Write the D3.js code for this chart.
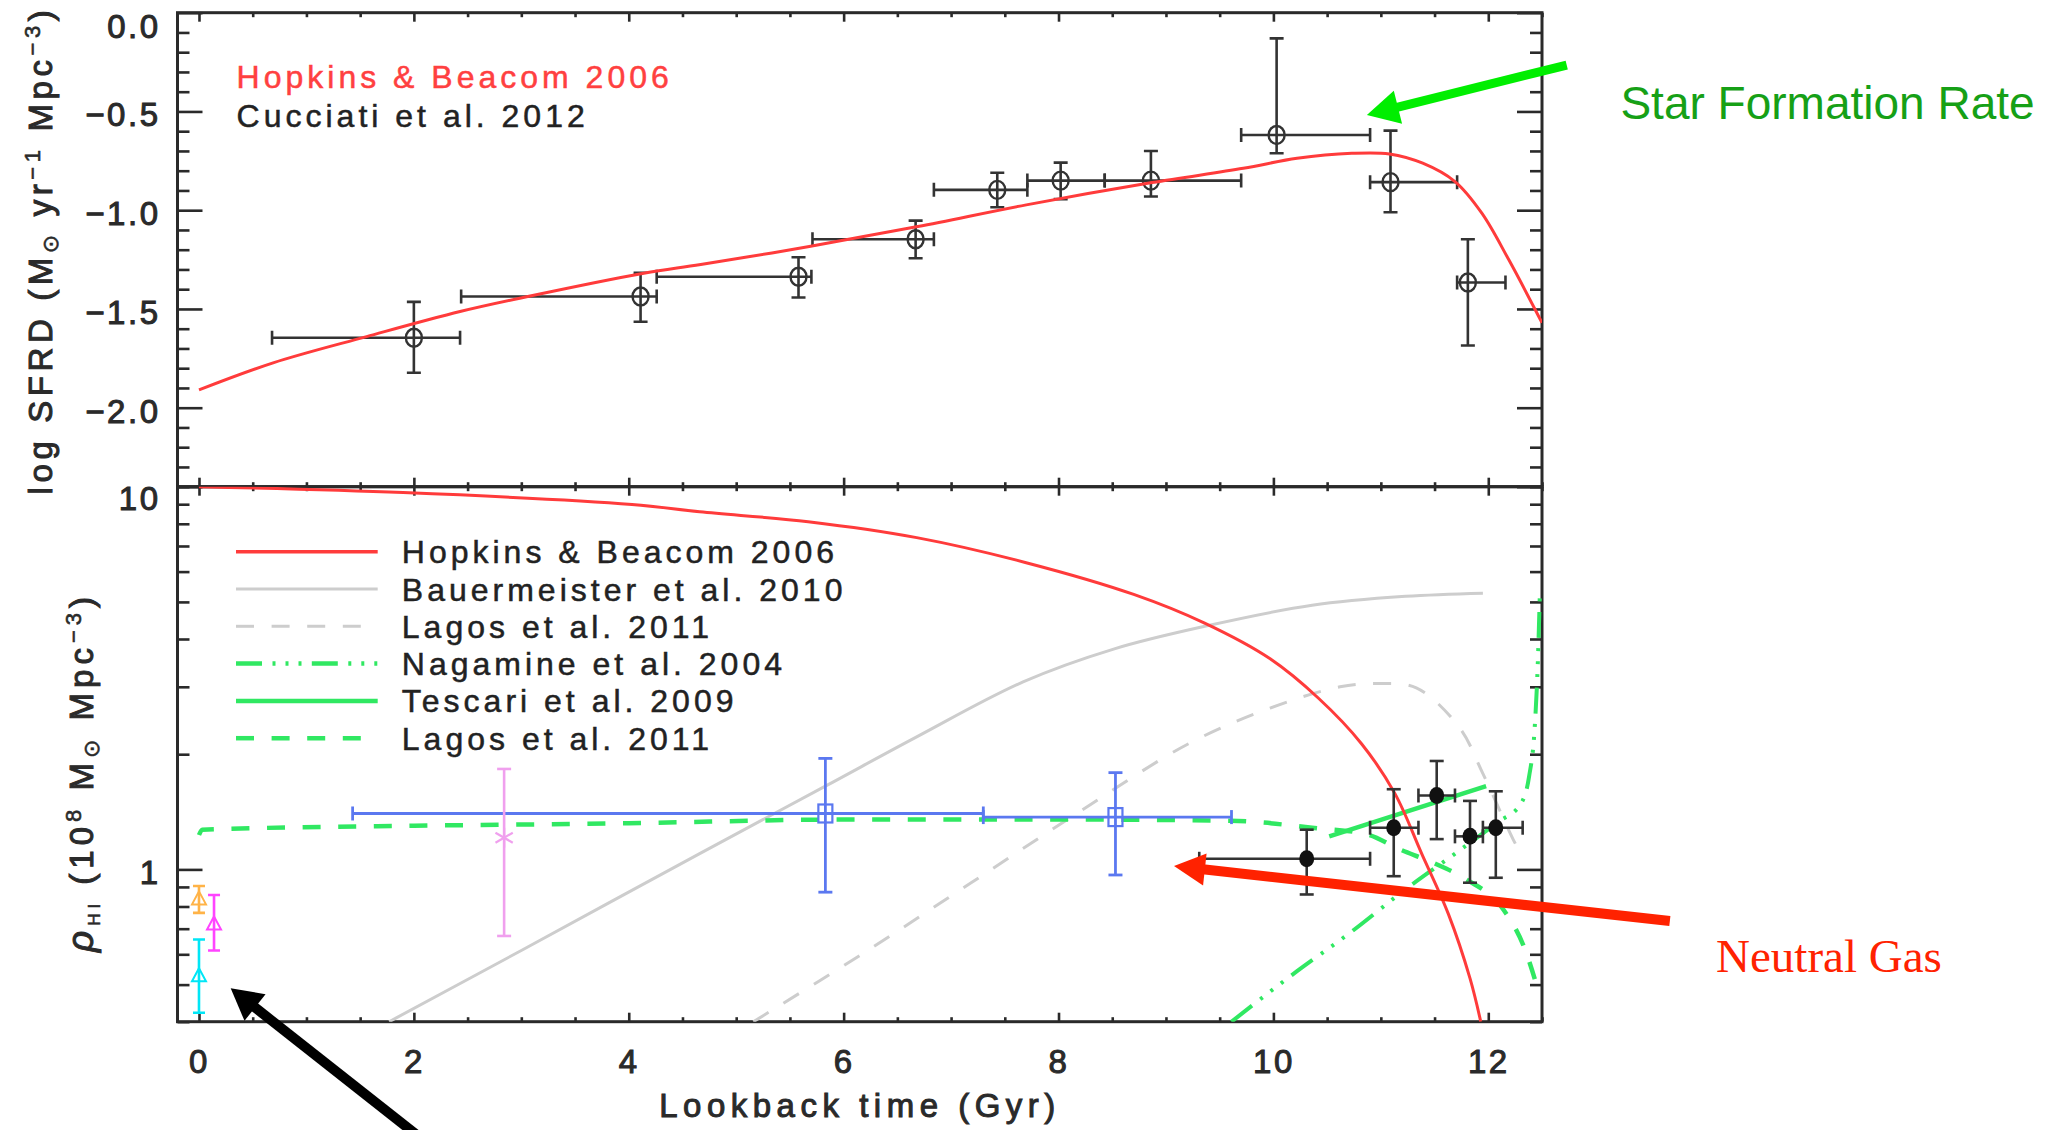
<!DOCTYPE html>
<html>
<head>
<meta charset="utf-8">
<script src="https://cdn.jsdelivr.net/npm/d3@7"></script>
<style>
  html, body { margin: 0; padding: 0; background: #fff; }
  svg { display: block; }
  .hershey { font-family: "Liberation Sans", "DejaVu Sans", sans-serif; }
</style>
</head>
<body>
<svg id="chart" width="2057" height="1130"></svg>
<script>
// ---------------- data ----------------
// Upper panel: cosmic star-formation-rate density, log10(Msun / yr / Mpc^3)
const sfrdModelTime = [0.0, 0.69, 1.56, 2.43, 3.06, 4.14, 4.67, 5.68, 6.69, 7.70, 8.87, 9.72, 10.22, 10.73, 11.08, 11.39, 11.69, 11.94, 12.19, 12.5];
const sfrdModelLog  = [-1.91, -1.773, -1.64, -1.513, -1.437, -1.319, -1.275, -1.184, -1.083, -0.973, -0.86, -0.788, -0.737, -0.712, -0.715, -0.762, -0.855, -1.015, -1.25, -1.57];

const cucciatiTime   = [2.0, 4.11, 5.58, 6.67, 7.43, 8.02, 8.86, 10.03, 11.09, 11.81];
const cucciatiTimeLo = [0.68, 2.44, 4.26, 5.71, 6.84, 7.71, 8.43, 9.70, 10.90, 11.71];
const cucciatiTimeHi = [2.43, 4.26, 5.70, 6.84, 7.71, 8.43, 9.70, 10.90, 11.71, 12.16];
const cucciatiLog    = [-1.646, -1.437, -1.337, -1.147, -0.897, -0.85, -0.85, -0.619, -0.858, -1.366];
const cucciatiLogHi  = [-1.464, -1.317, -1.238, -1.053, -0.81, -0.759, -0.70, -0.13, -0.597, -1.147];
const cucciatiLogLo  = [-1.823, -1.565, -1.442, -1.243, -0.985, -0.944, -0.931, -0.712, -1.01, -1.685];

// Lower panel: neutral-gas density, 10^8 Msun / Mpc^3
const hopkinsHiTime  = [0.0, 1.9, 4.03, 4.66, 5.67, 6.68, 7.69, 8.70, 9.36, 9.97, 10.42, 10.82, 11.13, 11.38, 11.63, 11.83, 11.93];
const hopkinsHiValue = [10.0, 9.65, 8.99, 8.6, 8.10, 7.36, 6.34, 5.23, 4.4, 3.55, 2.80, 2.13, 1.58, 1.10, 0.763, 0.519, 0.40];

const bauerTime  = [1.77, 3.0, 4.66, 5.83, 6.68, 7.67, 8.52, 9.35, 10.36, 11.23, 11.95];
const bauerValue = [0.40, 0.614, 1.10, 1.65, 2.22, 3.09, 3.77, 4.31, 4.90, 5.17, 5.27];

const lagosGreyTime  = [5.16, 6.18, 7.19, 8.20, 9.21, 9.97, 10.62, 10.97, 11.33, 11.73, 11.95, 12.23, 12.32];
const lagosGreyValue = [0.40, 0.603, 0.924, 1.418, 2.13, 2.64, 3.00, 3.06, 2.98, 2.35, 1.78, 1.2, 1.08];

const nagamineTime  = [9.61, 10.22, 10.72, 11.23, 11.73, 12.09, 12.3, 12.38, 12.43, 12.46, 12.48];
const nagamineValue = [0.40, 0.542, 0.685, 0.887, 1.12, 1.33, 1.48, 1.75, 2.3, 3.4, 5.25];

const tescariTime  = [10.52, 11.98];
const tescariValue = [1.22, 1.65];

const lagosGreenTime  = [0.0, 0.03, 2.0, 4.0, 6.0, 8.0, 9.6, 10.36, 10.87, 11.17, 11.49, 11.80, 12.14, 12.33, 12.48];
const lagosGreenValue = [1.23, 1.27, 1.30, 1.32, 1.35, 1.35, 1.34, 1.285, 1.235, 1.13, 1.04, 0.94, 0.786, 0.63, 0.467];

// high-redshift absorber measurements (filled circles)
const absorberTime    = [10.31, 11.12, 11.52, 11.83, 12.07];
const absorberTimeLo  = [9.31, 10.90, 11.35, 11.69, 11.95];
const absorberTimeHi  = [10.90, 11.35, 11.69, 11.95, 12.32];
const absorberValue   = [1.066, 1.285, 1.56, 1.22, 1.285];
const absorberValueHi = [1.27, 1.62, 1.92, 1.51, 1.60];
const absorberValueLo = [0.86, 0.96, 1.20, 0.923, 0.951];

// intermediate-redshift measurements (open squares)
const squareTime    = [5.83, 8.53];
const squareTimeLo  = [1.43, 7.30];
const squareTimeHi  = [7.30, 9.61];
const squareValue   = [1.40, 1.37];
const squareValueHi = [1.95, 1.79];
const squareValueLo = [0.872, 0.967];

// stacked 21-cm measurement (asterisk)
const stackTime = [2.84];
const stackValue = [1.21];
const stackValueHi = [1.83];
const stackValueLo = [0.67];

// local 21-cm surveys (open triangles)
const localTime    = [0.0, 0.14, 0.0];
const localValue   = [0.835, 0.718, 0.526];
const localValueHi = [0.905, 0.857, 0.656];
const localValueLo = [0.77, 0.614, 0.422];
const localColor   = ["#ffb347", "#ff44ff", "#00e6f6"];

// axis ticks
const timeMajorTicks = [0, 2, 4, 6, 8, 10, 12];
const sfrdMajorTicks = [0, -0.5, -1.0, -1.5, -2.0];
const hiMajorTicks = [1, 10];
const hiMinorTicks = [0.4, 0.5, 0.6, 0.7, 0.8, 0.9, 2, 3, 4, 5, 6, 7, 8, 9];

// legend labels
const sfrdLegend = ["Hopkins & Beacom 2006", "Cucciati et al. 2012"];
const hiLegend = ["Hopkins & Beacom 2006", "Bauermeister et al. 2010", "Lagos et al. 2011",
                  "Nagamine et al. 2004", "Tescari et al. 2009", "Lagos et al. 2011"];

// ---------------- layout ----------------
const svg = d3.select("#chart");
const plotLeft = 177.5, plotRight = 1542;
const sfrTop = 12.7, sfrBottom = 486.7;
const hiTop = 486.7, hiBottom = 1021.7;

const x = d3.scaleLinear().domain([-0.2, 12.5]).range([plotLeft, plotRight]);
const ySfr = d3.scaleLinear().domain([-2.4, 0]).range([sfrBottom, sfrTop]);
const yHi = d3.scaleLog().domain([0.4, 10]).range([hiBottom, hiTop]);

const ink = "#2a2a2a";
const red = "#ff3b3b";
const grey = "#cdcdcd";
const green = "#30e862";
const blue = "#5b78f0";

const defs = svg.append("defs");
defs.append("clipPath").attr("id", "clipSfr").append("rect")
  .attr("x", plotLeft).attr("y", sfrTop).attr("width", plotRight - plotLeft).attr("height", sfrBottom - sfrTop);
defs.append("clipPath").attr("id", "clipHi").append("rect")
  .attr("x", plotLeft).attr("y", hiTop).attr("width", plotRight - plotLeft).attr("height", hiBottom - hiTop);

const timeMinorTicks = d3.range(0, 12.51, 0.5).filter(t => !timeMajorTicks.includes(t));
const sfrdMinorTicks = d3.range(-24, 1, 1).map(v => v / 10).filter(v => Math.abs(v * 2 - Math.round(v * 2)) > 1e-6);

// ---------------- axes ----------------
function styleAxis(g) {
  g.select(".domain").remove();
  g.selectAll(".tick line").attr("stroke", ink).attr("stroke-width", 2.6);
  g.selectAll(".tick text")
    .attr("class", "hershey")
    .attr("fill", ink).attr("stroke", ink).attr("stroke-width", 1)
    .style("font-size", "33px").style("letter-spacing", "2.5px");
}

function timeAxes(yPos, generator, withLabels) {
  const major = generator(x).tickValues(timeMajorTicks).tickSize(-9).tickSizeOuter(0);
  if (withLabels) major.tickPadding(28).tickFormat(d3.format("d")); else major.tickFormat("");
  svg.append("g").attr("transform", `translate(0,${yPos})`).call(major).call(styleAxis);
  const minor = generator(x).tickValues(timeMinorTicks).tickSize(-4.5).tickSizeOuter(0).tickFormat("");
  svg.append("g").attr("transform", `translate(0,${yPos})`).call(minor).call(styleAxis);
}
timeAxes(sfrTop, d3.axisTop, false);
timeAxes(sfrBottom, d3.axisBottom, false);
timeAxes(hiTop, d3.axisTop, false);
timeAxes(hiBottom, d3.axisBottom, true);

function valueAxes(scale, majors, minors, fmt, topValue, topShift) {
  const left = d3.axisLeft(scale).tickValues(majors).tickSize(-25).tickSizeOuter(0).tickPadding(17).tickFormat(fmt);
  const gl = svg.append("g").attr("transform", `translate(${plotLeft},0)`).call(left).call(styleAxis);
  gl.selectAll(".tick text").attr("dy", d => (d === topValue ? topShift : 3) + 11.5 + "px");
  svg.append("g").attr("transform", `translate(${plotLeft},0)`)
    .call(d3.axisLeft(scale).tickValues(minors).tickSize(-12).tickSizeOuter(0).tickFormat(""))
    .call(styleAxis);
  svg.append("g").attr("transform", `translate(${plotRight},0)`)
    .call(d3.axisRight(scale).tickValues(majors).tickSize(-25).tickSizeOuter(0).tickFormat(""))
    .call(styleAxis);
  svg.append("g").attr("transform", `translate(${plotRight},0)`)
    .call(d3.axisRight(scale).tickValues(minors).tickSize(-12).tickSizeOuter(0).tickFormat(""))
    .call(styleAxis);
}
valueAxes(ySfr, sfrdMajorTicks, sfrdMinorTicks, d3.format(".1f"), 0, 13);
valueAxes(yHi, hiMajorTicks, hiMinorTicks, d => String(d), 10, 11);

// panel frames
[[sfrTop, sfrBottom], [hiTop, hiBottom]].forEach(([t, b]) => {
  svg.append("rect").attr("x", plotLeft).attr("y", t).attr("width", plotRight - plotLeft).attr("height", b - t)
    .attr("fill", "none").attr("stroke", ink).attr("stroke-width", 3);
});

// ---------------- helpers ----------------
function zip(xs, ys) { return xs.map((t, i) => [t, ys[i]]); }
const smooth = d3.curveCatmullRom.alpha(0.5);

function curve(g, xs, ys, yScale, color, width, dash, interp) {
  const line = d3.line().x(d => x(d[0])).y(d => yScale(d[1])).curve(interp || d3.curveMonotoneX);
  g.append("path").datum(zip(xs, ys)).attr("d", line)
    .attr("fill", "none").attr("stroke", color).attr("stroke-width", width)
    .attr("stroke-dasharray", dash || null).attr("stroke-linecap", "butt");
}

function errorBars(g, rows, yScale, color, width, cap) {
  const sel = g.append("g").attr("stroke", color).attr("stroke-width", width).attr("fill", "none");
  rows.forEach(r => {
    const cx = x(r.t), cy = yScale(r.v);
    if (r.hi !== undefined) {
      sel.append("line").attr("x1", cx).attr("x2", cx).attr("y1", yScale(r.lo)).attr("y2", yScale(r.hi));
      [r.lo, r.hi].forEach(v => sel.append("line")
        .attr("x1", cx - cap).attr("x2", cx + cap).attr("y1", yScale(v)).attr("y2", yScale(v)));
    }
    if (r.tLo !== undefined) {
      sel.append("line").attr("x1", x(r.tLo)).attr("x2", x(r.tHi)).attr("y1", cy).attr("y2", cy);
      [r.tLo, r.tHi].forEach(t => sel.append("line")
        .attr("x1", x(t)).attr("x2", x(t)).attr("y1", cy - cap).attr("y2", cy + cap));
    }
  });
}

// ---------------- upper panel ----------------
const upperPanel = svg.append("g").attr("clip-path", "url(#clipSfr)");
const cucciati = cucciatiTime.map((t, i) => ({
  t, v: cucciatiLog[i], lo: cucciatiLogLo[i], hi: cucciatiLogHi[i], tLo: cucciatiTimeLo[i], tHi: cucciatiTimeHi[i]
}));
errorBars(upperPanel, cucciati, ySfr, "#333", 2.6, 7);
upperPanel.append("g").selectAll("ellipse").data(cucciati).join("ellipse")
  .attr("cx", d => x(d.t)).attr("cy", d => ySfr(d.v)).attr("rx", 8).attr("ry", 9)
  .attr("fill", "none").attr("stroke", "#333").attr("stroke-width", 2.4);
curve(upperPanel, sfrdModelTime, sfrdModelLog, ySfr, red, 3, null, smooth);

const legendFont = sel => sel.attr("class", "hershey")
  .style("font-size", "32px").style("letter-spacing", "4px").attr("stroke-width", 0.5);
const upperLegend = svg.append("g");
upperLegend.append("text").call(legendFont).attr("x", 236.6).attr("y", 88.3)
  .attr("fill", "#ff4040").attr("stroke", "#ff4040").text(sfrdLegend[0]);
upperLegend.append("text").call(legendFont).attr("x", 236.6).attr("y", 126.5)
  .attr("fill", "#222").attr("stroke", "#222").text(sfrdLegend[1]);

// ---------------- lower panel ----------------
const lowerPanel = svg.append("g").attr("clip-path", "url(#clipHi)");
const dashGrey = "18 17.6";
const dashGreen = "18 17.6";
const dashDotDot = "26 10.5 3 10 3 10 3 10.3";

curve(lowerPanel, bauerTime, bauerValue, yHi, grey, 3, null, smooth);
curve(lowerPanel, lagosGreyTime, lagosGreyValue, yHi, grey, 3, dashGrey, smooth);
curve(lowerPanel, nagamineTime, nagamineValue, yHi, green, 4, dashDotDot);
curve(lowerPanel, tescariTime, tescariValue, yHi, green, 4.5, null, d3.curveLinear);
curve(lowerPanel, lagosGreenTime, lagosGreenValue, yHi, green, 4.5, dashGreen);
curve(lowerPanel, hopkinsHiTime, hopkinsHiValue, yHi, red, 3, null, smooth);

// intermediate-redshift squares
const squares = squareTime.map((t, i) => ({
  t, v: squareValue[i], lo: squareValueLo[i], hi: squareValueHi[i], tLo: squareTimeLo[i], tHi: squareTimeHi[i]
}));
errorBars(lowerPanel, squares, yHi, blue, 2.8, 7);
lowerPanel.append("g").selectAll("rect").data(squares).join("rect")
  .attr("x", d => x(d.t) - 7).attr("y", d => yHi(d.v) - 9).attr("width", 14).attr("height", 18)
  .attr("fill", "none").attr("stroke", blue).attr("stroke-width", 2.2);

// stacked measurement
const stack = stackTime.map((t, i) => ({ t, v: stackValue[i], lo: stackValueLo[i], hi: stackValueHi[i] }));
errorBars(lowerPanel, stack, yHi, "#f0a0ee", 2.6, 7);
stack.forEach(d => {
  const cx = x(d.t), cy = yHi(d.v), r = 10;
  const star = lowerPanel.append("g").attr("stroke", "#f0a0ee").attr("stroke-width", 2.2);
  [30, 90, 150].forEach(a => {
    const rad = a * Math.PI / 180;
    star.append("line").attr("x1", cx - r * Math.cos(rad)).attr("y1", cy - r * Math.sin(rad))
      .attr("x2", cx + r * Math.cos(rad)).attr("y2", cy + r * Math.sin(rad));
  });
});

// local surveys
localTime.forEach((t, i) => {
  const g = lowerPanel.append("g");
  errorBars(g, [{ t, v: localValue[i], lo: localValueLo[i], hi: localValueHi[i] }], yHi, localColor[i], 2.6, 6);
  const cx = x(t), cy = yHi(localValue[i]);
  g.append("path").attr("d", `M${cx},${cy - 8}L${cx + 7},${cy + 5}L${cx - 7},${cy + 5}Z`)
    .attr("fill", "none").attr("stroke", localColor[i]).attr("stroke-width", 2);
});

// high-redshift absorbers
const absorbers = absorberTime.map((t, i) => ({
  t, v: absorberValue[i], lo: absorberValueLo[i], hi: absorberValueHi[i], tLo: absorberTimeLo[i], tHi: absorberTimeHi[i]
}));
errorBars(lowerPanel, absorbers, yHi, "#333", 2.6, 7);
lowerPanel.append("g").selectAll("ellipse").data(absorbers).join("ellipse")
  .attr("cx", d => x(d.t)).attr("cy", d => yHi(d.v)).attr("rx", 7.5).attr("ry", 8.5).attr("fill", "#111");

// lower legend
const legendStyles = [
  { color: red, width: 3.5, dash: null },
  { color: grey, width: 3, dash: null },
  { color: grey, width: 3, dash: dashGrey },
  { color: green, width: 4.5, dash: dashDotDot },
  { color: green, width: 4.5, dash: null },
  { color: green, width: 4.5, dash: dashGreen }
];
const lowerLegend = svg.append("g");
hiLegend.forEach((label, i) => {
  const yRow = 551.7 + i * 37.3;
  const s = legendStyles[i];
  lowerLegend.append("line").attr("x1", 236).attr("x2", 377.7).attr("y1", yRow).attr("y2", yRow)
    .attr("stroke", s.color).attr("stroke-width", s.width).attr("stroke-dasharray", s.dash);
  lowerLegend.append("text").call(legendFont).attr("x", 401.8).attr("y", yRow + 11.5)
    .attr("fill", "#222").attr("stroke", "#222").text(label);
});

// ---------------- axis titles ----------------
const titleStyle = (t, spacing) => t.attr("class", "hershey").attr("fill", ink).attr("stroke", ink).attr("stroke-width", 1)
  .style("font-size", "33px").style("letter-spacing", spacing + "px");

svg.append("text").call(titleStyle, 5.5)
  .attr("x", 860).attr("y", 1117).attr("text-anchor", "middle").text("Lookback time (Gyr)");

const sfrTitle = svg.append("text").call(titleStyle, 4.6)
  .attr("transform", "translate(52,250) rotate(-90)").attr("text-anchor", "middle");
sfrTitle.append("tspan").text("log SFRD (M");
sfrTitle.append("tspan").attr("dy", 6).style("font-size", "22px").attr("stroke-width", 0.5).text("⊙");
sfrTitle.append("tspan").attr("dy", -6).text(" yr");
sfrTitle.append("tspan").attr("dy", -12).style("font-size", "22px").attr("stroke-width", 0.6).text("−1");
sfrTitle.append("tspan").attr("dy", 12).text(" Mpc");
sfrTitle.append("tspan").attr("dy", -12).style("font-size", "22px").attr("stroke-width", 0.6).text("−3");
sfrTitle.append("tspan").attr("dy", 12).text(")");

const hiTitle = svg.append("text").call(titleStyle, 5)
  .attr("transform", "translate(93,772) rotate(-90)").attr("text-anchor", "middle");
hiTitle.append("tspan").style("font-style", "italic").style("font-size", "37px").text("ρ");
hiTitle.append("tspan").attr("dy", 7).style("font-size", "17px").attr("stroke-width", 0.5).text("HI");
hiTitle.append("tspan").attr("dy", -7).text(" (10");
hiTitle.append("tspan").attr("dy", -12).style("font-size", "22px").attr("stroke-width", 0.6).text("8");
hiTitle.append("tspan").attr("dy", 12).text(" M");
hiTitle.append("tspan").attr("dy", 6).style("font-size", "22px").attr("stroke-width", 0.5).text("⊙");
hiTitle.append("tspan").attr("dy", -6).text(" Mpc");
hiTitle.append("tspan").attr("dy", -12).style("font-size", "22px").attr("stroke-width", 0.6).text("−3");
hiTitle.append("tspan").attr("dy", 12).text(")");

// ---------------- call-outs ----------------
function arrow(x1, y1, x2, y2, color, width, headLen, headHalf) {
  const dx = x2 - x1, dy = y2 - y1, len = Math.hypot(dx, dy);
  const ux = dx / len, uy = dy / len;
  const bx = x2 - ux * headLen, by = y2 - uy * headLen;
  svg.append("line").attr("x1", x1).attr("y1", y1).attr("x2", bx + ux * 2).attr("y2", by + uy * 2)
    .attr("stroke", color).attr("stroke-width", width);
  svg.append("path")
    .attr("d", `M${x2},${y2}L${bx - uy * headHalf},${by + ux * headHalf}L${bx + uy * headHalf},${by - ux * headHalf}Z`)
    .attr("fill", color);
}

// star-formation call-out (upper panel coordinates)
arrow(x(12.73), ySfr(-0.265), x(10.87), ySfr(-0.518), "#00ee00", 9, 32, 17);
svg.append("text").attr("x", x(13.23)).attr("y", ySfr(-0.538))
  .style("font-family", "'Liberation Sans', Arial, sans-serif").style("font-size", "46px")
  .attr("fill", "#16a016").text("Star Formation Rate");

// neutral-gas call-out (lower panel coordinates)
arrow(x(13.69), yHi(0.733), x(9.075), yHi(1.02), "#ff2200", 10, 31, 16);
svg.append("text").attr("x", x(14.12)).attr("y", yHi(0.539))
  .style("font-family", "'Liberation Serif', 'Times New Roman', serif").style("font-size", "47px")
  .attr("fill", "#ff2200").text("Neutral Gas");

// local-universe call-out
arrow(x(2.1), yHi(0.195), x(0.295), yHi(0.489), "#000", 10, 31, 17);
</script>
</body>
</html>
